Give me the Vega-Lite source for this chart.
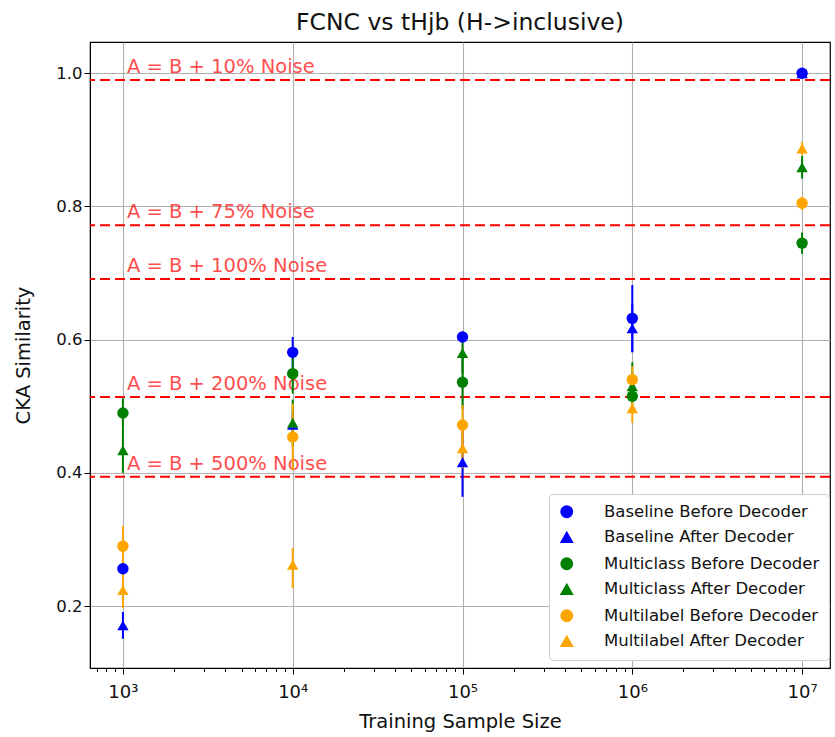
{
  "$schema": "https://vega.github.io/schema/vega-lite/v6.json",
  "autosize": "none",
  "width": 740,
  "height": 626,
  "padding": {"left": 90, "top": 42, "right": 5, "bottom": 69},
  "background": "white",
  "title": {"text": "FCNC vs tHjb (H->inclusive)", "font": "DejaVu Sans", "fontSize": 23.5, "fontWeight": "normal", "color": "#111111", "offset": 8},
  "config": {
    "view": {"stroke": "black", "strokeWidth": 1.2},
    "font": "DejaVu Sans"
  },
  "datasets": {
    "pts": [
      {"n": 1000, "series": "Baseline Before Decoder", "value": 0.256, "lo": 0.248, "hi": 0.264},
      {"n": 10000, "series": "Baseline Before Decoder", "value": 0.581, "lo": 0.558, "hi": 0.604},
      {"n": 100000, "series": "Baseline Before Decoder", "value": 0.604, "lo": 0.596, "hi": 0.612},
      {"n": 1000000, "series": "Baseline Before Decoder", "value": 0.632, "lo": 0.582, "hi": 0.682},
      {"n": 10000000, "series": "Baseline Before Decoder", "value": 1.0, "lo": 1.0, "hi": 1.0},
      {"n": 1000, "series": "Baseline After Decoder", "value": 0.171, "lo": 0.151, "hi": 0.191},
      {"n": 10000, "series": "Baseline After Decoder", "value": 0.472, "lo": 0.452, "hi": 0.492},
      {"n": 100000, "series": "Baseline After Decoder", "value": 0.416, "lo": 0.364, "hi": 0.468},
      {"n": 1000000, "series": "Baseline After Decoder", "value": 0.617, "lo": 0.581, "hi": 0.653},
      {"n": 10000000, "series": "Baseline After Decoder", "value": 1.0, "lo": 1.0, "hi": 1.0},
      {"n": 1000, "series": "Multiclass Before Decoder", "value": 0.49, "lo": 0.468, "hi": 0.512},
      {"n": 10000, "series": "Multiclass Before Decoder", "value": 0.549, "lo": 0.519, "hi": 0.579},
      {"n": 100000, "series": "Multiclass Before Decoder", "value": 0.536, "lo": 0.496, "hi": 0.576},
      {"n": 1000000, "series": "Multiclass Before Decoder", "value": 0.515, "lo": 0.49, "hi": 0.566},
      {"n": 10000000, "series": "Multiclass Before Decoder", "value": 0.745, "lo": 0.729, "hi": 0.761},
      {"n": 1000, "series": "Multiclass After Decoder", "value": 0.434, "lo": 0.4, "hi": 0.468},
      {"n": 10000, "series": "Multiclass After Decoder", "value": 0.475, "lo": 0.44, "hi": 0.51},
      {"n": 100000, "series": "Multiclass After Decoder", "value": 0.58, "lo": 0.55, "hi": 0.61},
      {"n": 1000000, "series": "Multiclass After Decoder", "value": 0.53, "lo": 0.51, "hi": 0.55},
      {"n": 10000000, "series": "Multiclass After Decoder", "value": 0.859, "lo": 0.842, "hi": 0.876},
      {"n": 1000, "series": "Multilabel Before Decoder", "value": 0.29, "lo": 0.26, "hi": 0.32},
      {"n": 10000, "series": "Multilabel Before Decoder", "value": 0.454, "lo": 0.404, "hi": 0.504},
      {"n": 100000, "series": "Multilabel Before Decoder", "value": 0.472, "lo": 0.442, "hi": 0.502},
      {"n": 1000000, "series": "Multilabel Before Decoder", "value": 0.54, "lo": 0.52, "hi": 0.56},
      {"n": 10000000, "series": "Multilabel Before Decoder", "value": 0.805, "lo": 0.795, "hi": 0.815},
      {"n": 1000, "series": "Multilabel After Decoder", "value": 0.224, "lo": 0.197, "hi": 0.251},
      {"n": 10000, "series": "Multilabel After Decoder", "value": 0.262, "lo": 0.227, "hi": 0.287},
      {"n": 100000, "series": "Multilabel After Decoder", "value": 0.437, "lo": 0.407, "hi": 0.467},
      {"n": 1000000, "series": "Multilabel After Decoder", "value": 0.497, "lo": 0.475, "hi": 0.519},
      {"n": 10000000, "series": "Multilabel After Decoder", "value": 0.887, "lo": 0.877, "hi": 0.897}
    ],
    "refs": [
      {"y": 0.99, "n": 1000, "label": "A = B + 10% Noise"},
      {"y": 0.772, "n": 1000, "label": "A = B + 75% Noise"},
      {"y": 0.691, "n": 1000, "label": "A = B + 100% Noise"},
      {"y": 0.514, "n": 1000, "label": "A = B + 200% Noise"},
      {"y": 0.394, "n": 1000, "label": "A = B + 500% Noise"}
    ]
  },
  "layer": [
    {
      "data": {"name": "refs"},
      "mark": {"type": "rule", "color": "#ff0000", "strokeWidth": 2, "strokeDash": [10, 5]},
      "encoding": {
        "y": {"field": "y", "type": "quantitative", "scale": {"domain": [0.107, 1.047], "nice": false, "zero": false}}
      }
    },
    {
      "data": {"name": "refs"},
      "mark": {"type": "text", "color": "#ff0000", "opacity": 0.7, "align": "left", "baseline": "alphabetic", "dx": 4, "dy": -7, "fontSize": 19.5, "font": "DejaVu Sans"},
      "encoding": {
        "x": {"field": "n", "type": "quantitative"},
        "y": {"field": "y", "type": "quantitative"},
        "text": {"field": "label"}
      }
    },
    {
      "data": {"name": "pts"},
      "mark": {"type": "rule", "strokeWidth": 2},
      "encoding": {
        "x": {"field": "n", "type": "quantitative"},
        "y": {"field": "lo", "type": "quantitative"},
        "y2": {"field": "hi"},
        "color": {"field": "series", "type": "nominal"}
      }
    },
    {
      "data": {"name": "pts"},
      "mark": {"type": "point", "filled": true, "opacity": 1, "size": 130},
      "encoding": {
        "x": {
          "field": "n", "type": "quantitative",
          "scale": {"type": "log", "domain": [640, 14600000], "nice": false},
          "axis": {
            "title": "Training Sample Size",
            "titleFontSize": 19.5, "titleFontWeight": "normal", "titleColor": "#111111", "titlePadding": 11,
            "values": [700, 800, 900, 1000, 2000, 3000, 4000, 5000, 6000, 7000, 8000, 9000, 10000, 20000, 30000, 40000, 50000, 60000, 70000, 80000, 90000, 100000, 200000, 300000, 400000, 500000, 600000, 700000, 800000, 900000, 1000000, 2000000, 3000000, 4000000, 5000000, 6000000, 7000000, 8000000, 9000000, 10000000],
            "labelExpr": "datum.value == 1000 ? '10³' : datum.value == 10000 ? '10⁴' : datum.value == 100000 ? '10⁵' : datum.value == 1000000 ? '10⁶' : datum.value == 10000000 ? '10⁷' : ''",
            "labelFontSize": 18, "labelColor": "#111111", "labelPadding": 9,
            "domainColor": "black", "tickColor": "black",
            "tickSize": {"condition": {"test": "indexof([1000,10000,100000,1000000,10000000], datum.value) >= 0", "value": 6}, "value": 3.5},
            "grid": true,
            "gridColor": "#b0b0b0", "gridWidth": 1.1,
            "gridOpacity": {"condition": {"test": "indexof([1000,10000,100000,1000000,10000000], datum.value) >= 0", "value": 1}, "value": 0}
          }
        },
        "y": {
          "field": "value", "type": "quantitative",
          "scale": {"domain": [0.107, 1.047], "nice": false, "zero": false},
          "axis": {
            "title": "CKA Similarity",
            "titleFontSize": 19.5, "titleFontWeight": "normal", "titleColor": "#111111", "titlePadding": 22,
            "values": [0.2, 0.4, 0.6, 0.8, 1.0], "format": ".1f",
            "labelFontSize": 16.5, "labelColor": "#111111",
            "domainColor": "black", "tickColor": "black", "tickSize": 6,
            "grid": true, "gridColor": "#b0b0b0", "gridWidth": 1.1
          }
        },
        "color": {
          "field": "series", "type": "nominal",
          "scale": {
            "domain": ["Baseline Before Decoder", "Baseline After Decoder", "Multiclass Before Decoder", "Multiclass After Decoder", "Multilabel Before Decoder", "Multilabel After Decoder"],
            "range": ["#0000ff", "#0000ff", "#008000", "#008000", "#ffa500", "#ffa500"]
          },
          "legend": {
            "title": null, "orient": "none", "legendX": 459, "legendY": 452,
            "fillColor": "white", "strokeColor": "#cccccc", "cornerRadius": 4, "padding": 9.5,
            "labelFontSize": 16.5, "labelColor": "#111111", "labelOffset": 29, "labelLimit": 400, "symbolSize": 130, "rowPadding": 8.5,
            "symbolOpacity": 1
          }
        },
        "shape": {
          "field": "series", "type": "nominal",
          "scale": {
            "domain": ["Baseline Before Decoder", "Baseline After Decoder", "Multiclass Before Decoder", "Multiclass After Decoder", "Multilabel Before Decoder", "Multilabel After Decoder"],
            "range": ["circle", "triangle-up", "circle", "triangle-up", "circle", "triangle-up"]
          },
          "legend": {
            "title": null, "orient": "none", "legendX": 459, "legendY": 452,
            "fillColor": "white", "strokeColor": "#cccccc", "cornerRadius": 4, "padding": 9.5,
            "labelFontSize": 16.5, "labelColor": "#111111", "labelOffset": 29, "labelLimit": 400, "symbolSize": 130, "rowPadding": 8.5,
            "symbolOpacity": 1
          }
        }
      }
    }
  ]
}
